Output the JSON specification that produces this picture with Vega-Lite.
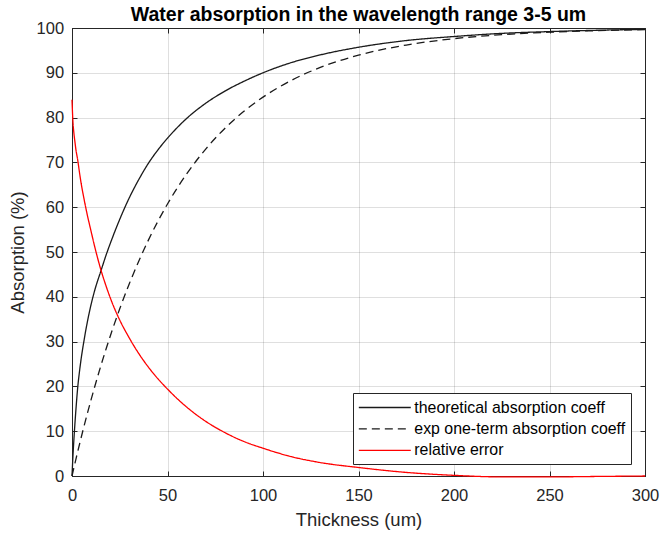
{
  "$schema": "https://vega.github.io/schema/vega-lite/v6.json",
  "autosize": {"type": "none"},
  "padding": {"left": 72, "top": 28, "right": 17, "bottom": 60},
  "width": 573,
  "height": 448,
  "background": "white",
  "title": {
    "text": "Water absorption in the wavelength range 3-5 um",
    "font": "Liberation Sans",
    "fontSize": 19.5,
    "fontWeight": "bold",
    "color": "#000000",
    "anchor": "middle",
    "baseline": "alphabetic",
    "offset": -20
  },
  "config": {
    "view": {"stroke": "#262626", "strokeWidth": 1},
    "axis": {
      "labelFont": "Liberation Sans",
      "labelFontSize": 16.5,
      "labelColor": "#262626",
      "labelFlush": false,
      "titleFont": "Liberation Sans",
      "titleFontSize": 18.5,
      "titleFontWeight": "normal",
      "titleColor": "#262626",
      "domainColor": "#262626",
      "tickColor": "#262626",
      "gridColor": "#262626",
      "gridOpacity": 0.15,
      "tickSize": -5
    },
    "legend": {
      "orient": "none",
      "legendX": 281,
      "legendY": 365,
      "direction": "vertical",
      "fillColor": "white",
      "strokeColor": "#262626",
      "padding": 5,
      "cornerRadius": 0,
      "symbolType": "M-3,0H3",
      "symbolSize": 300,
      "symbolOffset": 17.3,
      "symbolStrokeWidth": 1.3,
      "labelFont": "Liberation Sans",
      "labelFontSize": 15.9,
      "labelColor": "#000000",
      "labelOffset": 20,
      "labelLimit": 400,
      "rowPadding": 3.4
    }
  },
  "datasets": {
    "absorption": [
      {"thickness": 0, "absorption": 0, "series": "theoretical absorption coeff"},
      {"thickness": 0.5, "absorption": 4.5, "series": "theoretical absorption coeff"},
      {"thickness": 1, "absorption": 8.2, "series": "theoretical absorption coeff"},
      {"thickness": 1.5, "absorption": 11.5, "series": "theoretical absorption coeff"},
      {"thickness": 2, "absorption": 14.5, "series": "theoretical absorption coeff"},
      {"thickness": 3, "absorption": 19.8, "series": "theoretical absorption coeff"},
      {"thickness": 4, "absorption": 23.6, "series": "theoretical absorption coeff"},
      {"thickness": 5, "absorption": 26.8, "series": "theoretical absorption coeff"},
      {"thickness": 6, "absorption": 29.5, "series": "theoretical absorption coeff"},
      {"thickness": 8, "absorption": 34.3, "series": "theoretical absorption coeff"},
      {"thickness": 10, "absorption": 38.3, "series": "theoretical absorption coeff"},
      {"thickness": 12, "absorption": 41.6, "series": "theoretical absorption coeff"},
      {"thickness": 15, "absorption": 45.6, "series": "theoretical absorption coeff"},
      {"thickness": 18, "absorption": 49.5, "series": "theoretical absorption coeff"},
      {"thickness": 21, "absorption": 53.0, "series": "theoretical absorption coeff"},
      {"thickness": 25, "absorption": 57.3, "series": "theoretical absorption coeff"},
      {"thickness": 30, "absorption": 62.1, "series": "theoretical absorption coeff"},
      {"thickness": 35, "absorption": 66.2, "series": "theoretical absorption coeff"},
      {"thickness": 40, "absorption": 69.8, "series": "theoretical absorption coeff"},
      {"thickness": 45, "absorption": 72.8, "series": "theoretical absorption coeff"},
      {"thickness": 50, "absorption": 75.4, "series": "theoretical absorption coeff"},
      {"thickness": 60, "absorption": 79.8, "series": "theoretical absorption coeff"},
      {"thickness": 70, "absorption": 83.2, "series": "theoretical absorption coeff"},
      {"thickness": 80, "absorption": 85.9, "series": "theoretical absorption coeff"},
      {"thickness": 90, "absorption": 88.1, "series": "theoretical absorption coeff"},
      {"thickness": 100, "absorption": 90.0, "series": "theoretical absorption coeff"},
      {"thickness": 115, "absorption": 92.3, "series": "theoretical absorption coeff"},
      {"thickness": 130, "absorption": 94.0, "series": "theoretical absorption coeff"},
      {"thickness": 150, "absorption": 95.7, "series": "theoretical absorption coeff"},
      {"thickness": 175, "absorption": 97.2, "series": "theoretical absorption coeff"},
      {"thickness": 200, "absorption": 98.1, "series": "theoretical absorption coeff"},
      {"thickness": 225, "absorption": 98.8, "series": "theoretical absorption coeff"},
      {"thickness": 250, "absorption": 99.2, "series": "theoretical absorption coeff"},
      {"thickness": 275, "absorption": 99.5, "series": "theoretical absorption coeff"},
      {"thickness": 300, "absorption": 99.7, "series": "theoretical absorption coeff"},
      {"thickness": 0, "absorption": 0, "series": "exp one-term absorption coeff"},
      {"thickness": 1, "absorption": 1.85, "series": "exp one-term absorption coeff"},
      {"thickness": 2, "absorption": 3.67, "series": "exp one-term absorption coeff"},
      {"thickness": 4, "absorption": 7.2, "series": "exp one-term absorption coeff"},
      {"thickness": 6, "absorption": 10.61, "series": "exp one-term absorption coeff"},
      {"thickness": 8, "absorption": 13.89, "series": "exp one-term absorption coeff"},
      {"thickness": 10, "absorption": 17.05, "series": "exp one-term absorption coeff"},
      {"thickness": 12, "absorption": 20.09, "series": "exp one-term absorption coeff"},
      {"thickness": 15, "absorption": 24.45, "series": "exp one-term absorption coeff"},
      {"thickness": 18, "absorption": 28.57, "series": "exp one-term absorption coeff"},
      {"thickness": 21, "absorption": 32.47, "series": "exp one-term absorption coeff"},
      {"thickness": 25, "absorption": 37.33, "series": "exp one-term absorption coeff"},
      {"thickness": 30, "absorption": 42.92, "series": "exp one-term absorption coeff"},
      {"thickness": 35, "absorption": 48.01, "series": "exp one-term absorption coeff"},
      {"thickness": 40, "absorption": 52.65, "series": "exp one-term absorption coeff"},
      {"thickness": 45, "absorption": 56.88, "series": "exp one-term absorption coeff"},
      {"thickness": 50, "absorption": 60.72, "series": "exp one-term absorption coeff"},
      {"thickness": 60, "absorption": 67.42, "series": "exp one-term absorption coeff"},
      {"thickness": 70, "absorption": 72.97, "series": "exp one-term absorption coeff"},
      {"thickness": 80, "absorption": 77.58, "series": "exp one-term absorption coeff"},
      {"thickness": 90, "absorption": 81.4, "series": "exp one-term absorption coeff"},
      {"thickness": 100, "absorption": 84.57, "series": "exp one-term absorption coeff"},
      {"thickness": 115, "absorption": 88.34, "series": "exp one-term absorption coeff"},
      {"thickness": 130, "absorption": 91.2, "series": "exp one-term absorption coeff"},
      {"thickness": 150, "absorption": 93.94, "series": "exp one-term absorption coeff"},
      {"thickness": 175, "absorption": 96.2, "series": "exp one-term absorption coeff"},
      {"thickness": 200, "absorption": 97.62, "series": "exp one-term absorption coeff"},
      {"thickness": 225, "absorption": 98.51, "series": "exp one-term absorption coeff"},
      {"thickness": 250, "absorption": 99.07, "series": "exp one-term absorption coeff"},
      {"thickness": 275, "absorption": 99.41, "series": "exp one-term absorption coeff"},
      {"thickness": 300, "absorption": 99.63, "series": "exp one-term absorption coeff"}
    ],
    "error": [
      {"thickness": 0, "absorption": 84, "series": "relative error"},
      {"thickness": 0.5, "absorption": 79, "series": "relative error"},
      {"thickness": 1, "absorption": 76.5, "series": "relative error"},
      {"thickness": 1.5, "absorption": 74.7, "series": "relative error"},
      {"thickness": 2, "absorption": 73, "series": "relative error"},
      {"thickness": 3, "absorption": 70.5, "series": "relative error"},
      {"thickness": 4, "absorption": 67.5, "series": "relative error"},
      {"thickness": 5, "absorption": 64.8, "series": "relative error"},
      {"thickness": 6, "absorption": 62.5, "series": "relative error"},
      {"thickness": 8, "absorption": 58.3, "series": "relative error"},
      {"thickness": 10, "absorption": 54.6, "series": "relative error"},
      {"thickness": 12, "absorption": 51.0, "series": "relative error"},
      {"thickness": 15, "absorption": 46.2, "series": "relative error"},
      {"thickness": 18, "absorption": 42.2, "series": "relative error"},
      {"thickness": 21, "absorption": 38.7, "series": "relative error"},
      {"thickness": 25, "absorption": 34.8, "series": "relative error"},
      {"thickness": 30, "absorption": 30.8, "series": "relative error"},
      {"thickness": 35, "absorption": 27.3, "series": "relative error"},
      {"thickness": 40, "absorption": 24.3, "series": "relative error"},
      {"thickness": 45, "absorption": 21.7, "series": "relative error"},
      {"thickness": 50, "absorption": 19.4, "series": "relative error"},
      {"thickness": 60, "absorption": 15.4, "series": "relative error"},
      {"thickness": 70, "absorption": 12.2, "series": "relative error"},
      {"thickness": 80, "absorption": 9.7, "series": "relative error"},
      {"thickness": 90, "absorption": 7.7, "series": "relative error"},
      {"thickness": 100, "absorption": 6.2, "series": "relative error"},
      {"thickness": 115, "absorption": 4.3, "series": "relative error"},
      {"thickness": 130, "absorption": 3.0, "series": "relative error"},
      {"thickness": 150, "absorption": 1.9, "series": "relative error"},
      {"thickness": 175, "absorption": 0.8, "series": "relative error"},
      {"thickness": 200, "absorption": 0.15, "series": "relative error"},
      {"thickness": 225, "absorption": -0.2, "series": "relative error"},
      {"thickness": 250, "absorption": -0.2, "series": "relative error"},
      {"thickness": 275, "absorption": -0.1, "series": "relative error"},
      {"thickness": 300, "absorption": 0, "series": "relative error"}
    ]
  },
  "encoding": {
    "color": {
      "field": "series",
      "type": "nominal",
      "title": null,
      "scale": {
        "domain": ["theoretical absorption coeff", "exp one-term absorption coeff", "relative error"],
        "range": ["#1a1a1a", "#1a1a1a", "#ff0000"]
      }
    },
    "strokeDash": {
      "field": "series",
      "type": "nominal",
      "title": null,
      "scale": {
        "domain": ["theoretical absorption coeff", "exp one-term absorption coeff", "relative error"],
        "range": [[1, 0], [8, 5], [1, 0]]
      }
    }
  },
  "layer": [
    {
      "data": {"name": "absorption"},
      "mark": {"type": "line", "strokeWidth": 1.3, "interpolate": "monotone"},
      "encoding": {
        "x": {
          "field": "thickness",
          "type": "quantitative",
          "scale": {"domain": [0, 300], "nice": false, "zero": false},
          "axis": {
            "orient": "bottom",
            "values": [0, 50, 100, 150, 200, 250, 300],
            "grid": true,
            "title": "Thickness (um)",
            "labelPadding": 16,
            "titlePadding": 7
          }
        },
        "y": {
          "field": "absorption",
          "type": "quantitative",
          "scale": {"domain": [0, 100], "nice": false, "zero": false},
          "axis": {
            "orient": "left",
            "values": [0, 10, 20, 30, 40, 50, 60, 70, 80, 90, 100],
            "grid": true,
            "title": "Absorption (%)",
            "labelPadding": 13.4,
            "titlePadding": 9
          }
        }
      }
    },
    {
      "data": {"name": "error"},
      "mark": {"type": "line", "strokeWidth": 1.3, "interpolate": "monotone"},
      "encoding": {
        "x": {
          "field": "thickness",
          "type": "quantitative",
          "axis": {
            "orient": "top",
            "values": [0, 50, 100, 150, 200, 250, 300],
            "grid": false,
            "labels": false,
            "title": null
          }
        },
        "y": {
          "field": "absorption",
          "type": "quantitative",
          "axis": {
            "orient": "right",
            "values": [0, 10, 20, 30, 40, 50, 60, 70, 80, 90, 100],
            "grid": false,
            "labels": false,
            "title": null
          }
        }
      }
    }
  ]
}
